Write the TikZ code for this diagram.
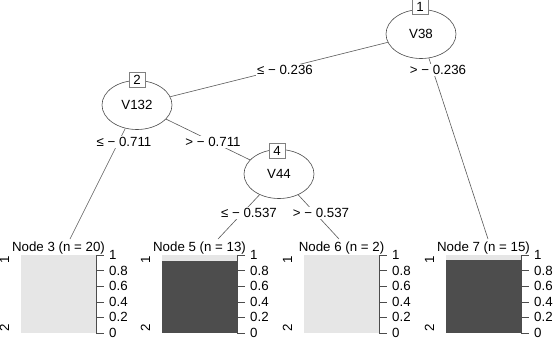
\documentclass[tikz,border=0pt]{standalone}
\usepackage{fontspec}
\setmainfont{Liberation Sans}
\usetikzlibrary{shapes.geometric}
\definecolor{barlight}{HTML}{E6E6E6}
\definecolor{bardark}{HTML}{4D4D4D}
\tikzset{
  inner node/.style={
    ellipse, draw=black!70, line width=0.6bp, fill=white, inner sep=0pt,
    minimum width=70bp, minimum height=49bp
  },
  id box/.style={
    rectangle, draw=black!50, line width=0.6bp, fill=white, inner sep=0pt,
    minimum width=16bp, minimum height=15bp
  },
  split label/.style={
    fill=white, inner sep=1bp
  },
  tree edge/.style={draw=black!65, line width=0.6bp},
  bar light/.style={fill=barlight},
  bar dark/.style={fill=bardark},
  bar axis/.style={draw=black!70, line width=0.6bp},
  tick label/.style={anchor=west, inner sep=0pt},
  class label/.style={rotate=90, inner sep=0pt}
}

\begin{document}
\begin{tikzpicture}[x=1bp, y=-1bp, every node/.style={font=\fontsize{13.3bp}{15bp}\selectfont}]
\useasboundingbox (0,0) rectangle (556,338);

% ------------------------------------------------
% inner nodes
% ------------------------------------------------
\node[inner node] (n1) at (421, 34) {V38};
\node[inner node] (n2) at (137,105) {V132};
\node[inner node] (n4) at (279,174) {V44};

\coordinate (t3) at ( 70,239);
\coordinate (t5) at (218,239);
\coordinate (t6) at (339,239);
\coordinate (t7) at (488,239);

\draw[tree edge] (n1) -- (n2);
\draw[tree edge] (n1) -- (t7);
\draw[tree edge] (n2) -- (t3);
\draw[tree edge] (n2) -- (n4);
\draw[tree edge] (n4) -- (t5);
\draw[tree edge] (n4) -- (t6);

\node[id box] (n1id) at (420,  7) {1};
\node[id box] (n2id) at (137, 80) {2};
\node[id box] (n4id) at (277,151) {4};

\node[split label] (s12) at (285, 70) {≤ − 0.236};
\node[split label] (s17) at (438, 70) {> − 0.236};
\node[split label] (s23) at (124,142) {≤ − 0.711};
\node[split label] (s24) at (213,142) {> − 0.711};
\node[split label] (s45) at (249,213) {≤ − 0.537};
\node[split label] (s46) at (321,213) {> − 0.537};

% ------------------------------------------------
% terminal node 3
% ------------------------------------------------
\begin{scope}[shift={(21,255)}]
  \fill[bar light] (0,0) rectangle (75,78);
  \draw[bar axis] (75,0) -- (75,78);
  \foreach \v/\t [count=\i] in {0/1, 15.6/0.8, 31.2/0.6, 46.8/0.4, 62.4/0.2, 78/0} {
    \draw[bar axis] (75,\v) -- (83,\v);
    \node[tick label] (k3-\i) at (88,\v) {\t};
  }
  \node[class label] (c3a) at (-16.5, 5) {1};
  \node[class label] (c3b) at (-16.5,73) {2};
  \node (title3) at (37.5,-7) {Node 3 (n = 20)};
\end{scope}

% ------------------------------------------------
% terminal node 5
% ------------------------------------------------
\begin{scope}[shift={(162,255)}]
  \fill[bar light] (0,0) rectangle (75,6);
  \fill[bar dark]  (0,6) rectangle (75,78);
  \draw[bar axis] (75,0) -- (75,78);
  \foreach \v/\t [count=\i] in {0/1, 15.6/0.8, 31.2/0.6, 46.8/0.4, 62.4/0.2, 78/0} {
    \draw[bar axis] (75,\v) -- (83,\v);
    \node[tick label] (k5-\i) at (88,\v) {\t};
  }
  \node[class label] (c5a) at (-16.5, 5) {1};
  \node[class label] (c5b) at (-16.5,73) {2};
  \node (title5) at (37.5,-7) {Node 5 (n = 13)};
\end{scope}

% ------------------------------------------------
% terminal node 6
% ------------------------------------------------
\begin{scope}[shift={(304,255)}]
  \fill[bar light] (0,0) rectangle (75,78);
  \draw[bar axis] (75,0) -- (75,78);
  \foreach \v/\t [count=\i] in {0/1, 15.6/0.8, 31.2/0.6, 46.8/0.4, 62.4/0.2, 78/0} {
    \draw[bar axis] (75,\v) -- (83,\v);
    \node[tick label] (k6-\i) at (88,\v) {\t};
  }
  \node[class label] (c6a) at (-16.5, 5) {1};
  \node[class label] (c6b) at (-16.5,73) {2};
  \node (title6) at (37.5,-7) {Node 6 (n = 2)};
\end{scope}

% ------------------------------------------------
% terminal node 7
% ------------------------------------------------
\begin{scope}[shift={(446,255)}]
  \fill[bar light] (0,0) rectangle (75,5);
  \fill[bar dark]  (0,5) rectangle (75,78);
  \draw[bar axis] (75,0) -- (75,78);
  \foreach \v/\t [count=\i] in {0/1, 15.6/0.8, 31.2/0.6, 46.8/0.4, 62.4/0.2, 78/0} {
    \draw[bar axis] (75,\v) -- (83,\v);
    \node[tick label] (k7-\i) at (88,\v) {\t};
  }
  \node[class label] (c7a) at (-16.5, 5) {1};
  \node[class label] (c7b) at (-16.5,73) {2};
  \node (title7) at (37.5,-7) {Node 7 (n = 15)};
\end{scope}
\end{tikzpicture}
\end{document}
